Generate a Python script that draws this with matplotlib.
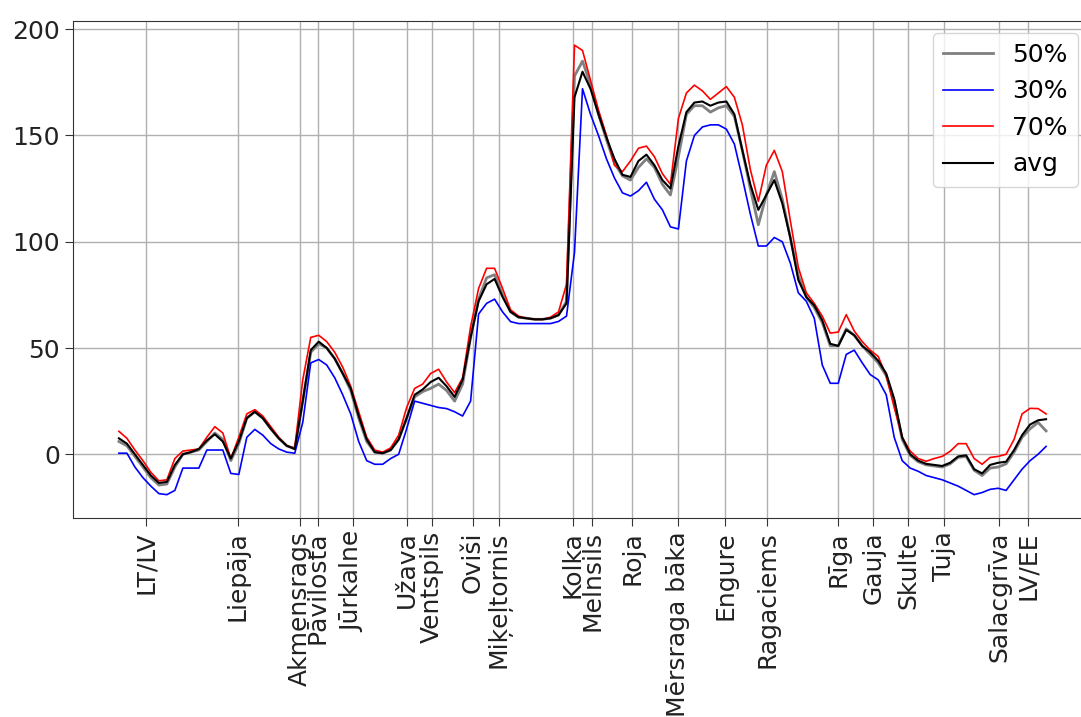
import numpy as np
import matplotlib
matplotlib.use("Agg")
from matplotlib import pyplot as plt

# attālums gar krastu, km (kopīgs visām līknēm)
dist = np.arange(0, 929, 8)

# 50% kvantile
q50 = [6, 4, -1, -6, -11, -14.5, -14, -6, 0, 1,
       2, 6, 10, 7, -3, 5, 17, 20, 17, 12,
       7.5, 4, 2.5, 25, 48, 52, 50, 45, 38, 30,
       17, 6, 1, 0.5, 2, 7, 17, 27, 29.5, 31,
       33, 30, 25, 33, 55, 73, 83, 84.5, 75, 67,
       64.5, 64, 63.5, 63.5, 64, 65.5, 72, 178, 185, 174,
       160, 148, 137, 131, 129, 135, 139, 135, 127, 122,
       140, 160, 164, 164, 161, 163, 164, 159, 143, 125,
       108, 122, 133, 120, 102, 84, 74, 69, 62, 51,
       51, 59, 56, 51, 47, 43, 37, 25, 7, -0.5,
       -3.5, -5, -5.5, -6, -4.5, -1.5, -1, -7.5, -10, -6.5,
       -6, -4.5, 1, 8, 12, 15, 11]

# 30% kvantile
q30 = [0.5, 0.5, -6, -11, -15, -18.5, -19, -17, -6.5, -6.5,
       -6.5, 2, 2, 2, -9, -9.5, 8, 11.7, 9, 5,
       2.5, 1, 0.5, 15, 43, 44.6, 42, 36, 28, 19,
       6, -3, -4.7, -4.7, -2, 0, 12, 25, 24, 23,
       22, 21.5, 20, 18, 25, 66, 71, 73, 67, 62.4,
       61.5, 61.5, 61.5, 61.5, 61.5, 62.5, 65, 95, 172, 160,
       150, 139, 130, 123, 121.5, 124, 128, 120, 115, 107,
       106, 138, 150, 154, 155, 155, 153, 146, 130, 113,
       98, 98, 102, 100, 90, 76, 72, 64, 42, 33.4,
       33.4, 47, 49, 43, 37.5, 35, 28, 8, -3, -6.5,
       -8, -10, -11, -12, -13.5, -15, -17, -19, -18, -16.5,
       -16, -17, -12, -7, -3, 0, 3.7]

# 70% kvantile
q70 = [10.8, 7.5, 2, -3, -8.5, -12.5, -12, -2, 1.5, 2,
       2.5, 8, 13, 10, -2, 8, 19, 21, 18, 13,
       8, 4, 3, 35, 55, 56, 53, 48, 41, 32,
       20, 8, 2, 1, 3, 9, 22, 31, 33, 38,
       40, 34, 29, 36, 60, 78, 87.5, 87.5, 78, 68,
       65, 64, 63.5, 63.5, 64.5, 67, 80, 192.5, 190, 176,
       162, 150, 136, 133, 138, 144, 145, 140, 132, 127,
       158, 170, 173.7, 171, 167, 170, 173, 168, 155, 134,
       119, 136, 143, 133, 110, 88, 76, 71, 65, 57,
       57.5, 65.7, 58, 53, 49, 46, 37, 22, 8, 1.5,
       -2, -3.3, -2, -1, 1.4, 5, 5, -2, -4.7, -1.5,
       -1, 0, 7, 19, 21.6, 21.5, 19]

# vidējais
avg = [7.5, 5, 0, -5, -10, -13.5, -13, -5, 0, 1,
       2.5, 6.5, 9.4, 6, -2, 6, 17, 20, 17, 12,
       7.5, 4, 2.5, 25, 49, 53, 50, 45, 38, 31,
       18, 7, 1, 0.5, 2, 7, 17, 28, 30.5, 34,
       36, 32, 27, 35, 55, 72, 80, 82.5, 74, 67,
       64.5, 64, 63.5, 63.5, 64, 65.5, 71, 168, 180, 172,
       160, 149, 139, 131.5, 130.5, 138, 141, 136, 129, 125,
       145, 161, 165.5, 166, 164, 165.5, 166, 160, 143, 127,
       115, 122, 129, 118, 102, 82, 74, 70, 63, 52,
       51, 58.5, 56, 51, 48, 44, 38, 26, 8, 0,
       -3, -4.5, -5, -5.5, -4, -1, -0.5, -7, -9, -5,
       -4, -3.5, 2, 9, 14, 16, 16.5]

stations = ["LT/LV", "Liepāja", "Akmensrags", "Pāvilosta", "Jūrkalne",
            "Užava", "Ventspils", "Oviši", "Miķeļtornis", "Kolka",
            "Melnsils", "Roja", "Mērsraga bāka", "Engure", "Ragaciems",
            "Rīga", "Gauja", "Skulte", "Tuja", "Salacgrīva", "LV/EE"]
station_km = [27, 119, 181, 199, 234, 288, 313, 354, 380, 454,
              474, 514, 560, 607, 649, 720, 755, 790, 826, 881, 910]

plt.rcParams['font.family'] = ['DejaVu Sans']
plt.rcParams['font.size'] = 18

fig = plt.figure(figsize=(10.81, 7.17), dpi=100)
ax = fig.add_axes([0.0675, 0.2775, 0.9427, 0.6936])

ax.plot(dist, q50, color='gray', lw=2.0, label='50%')
ax.plot(dist, q30, color='blue', lw=1.2, label='30%')
ax.plot(dist, q70, color='red', lw=1.2, label='70%')
ax.plot(dist, avg, color='black', lw=1.5, label='avg')

ax.set_xlim(-46, 974)
ax.set_ylim(-30, 204)
ax.set_yticks([0, 50, 100, 150, 200])
ax.set_xticks(station_km)
ax.set_xticklabels(stations, rotation=90)
ax.tick_params(length=6, color='#333333', labelcolor='#222222')
ax.grid(True, color='#b0b0b0', lw=1.0)
for s in ax.spines.values():
    s.set_color('#333333')

ax.legend(loc='upper right', bbox_to_anchor=(1078 / 1081, 1 - 33 / 717),
          bbox_transform=fig.transFigure, borderaxespad=0, fontsize=18)

plt.savefig('out.png', dpi=100)
